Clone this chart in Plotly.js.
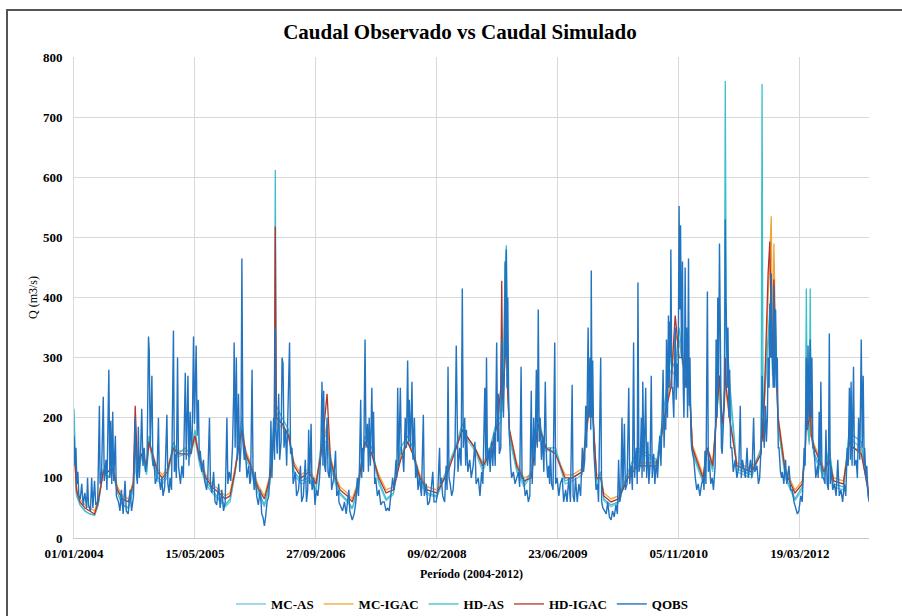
<!DOCTYPE html>
<html>
<head>
<meta charset="utf-8">
<script src="https://cdn.plot.ly/plotly-3.0.1.min.js"></script>
<style>
  html, body { margin: 0; padding: 0; background: #fff; }
  #wrap { position: relative; width: 902px; height: 616px; overflow: hidden; }
  #chart { position: absolute; left: 0; top: 0; width: 902px; height: 616px; }
  #frame { position: absolute; left: 6px; top: 9px; width: 1000px; height: 700px;
           border-left: 2px solid #555; border-top: 2px solid #555; pointer-events: none; }
</style>
</head>
<body>
<div id="wrap"><div id="chart"></div><div id="frame"></div></div>
<script>
// ---------------- DATA ----------------
const ticksDia = [0, 500, 1000, 1500, 2000, 2500, 3000];
const ticksTexto = ['01/01/2004', '15/05/2005', '27/09/2006', '09/02/2008', '23/06/2009', '05/11/2010', '19/03/2012'];
const nombresSeries = ['MC-AS', 'MC-IGAC', 'HD-AS', 'HD-IGAC', 'QOBS'];

// Observed flow: [day since 01/01/2004, Q m3/s]
const qobsPuntos = [
 // 2004
 [0,170],[4,120],[8,150],[12,90],[16,110],[20,70],[26,65],[32,90],[38,55],[45,75],[52,50],[56,100],[60,55],[68,45],[73,100],[78,50],[85,95],[90,55],[98,60],[105,220],[108,90],[114,110],[121,235],[125,95],[132,130],[136,80],[144,280],[148,100],[152,195],[156,90],[160,210],[164,95],[171,170],[175,70],[184,60],[190,45],[196,80],[203,40],[211,95],[216,45],[224,40],[232,80],[238,45],[246,70],[253,200],[257,110],[262,90],[266,185],[270,100],[275,140],[280,215],[285,120],[290,150],[296,110],[302,130],[308,335],[311,310],[315,150],[322,270],[326,120],[331,130],[336,90],[343,100],[349,200],[353,95],[358,80],[363,100],
 // 2005
 [368,70],[375,85],[384,205],[388,90],[393,75],[397,100],[403,80],[411,345],[415,110],[419,140],[423,100],[428,300],[432,120],[440,90],[446,120],[452,100],[460,275],[464,130],[471,270],[475,120],[480,210],[485,140],[489,180],[494,335],[498,190],[505,320],[509,170],[514,230],[518,130],[522,145],[528,110],[535,130],[540,95],[548,80],[553,100],[560,200],[564,90],[570,75],[577,110],[583,60],[590,55],[598,90],[604,50],[611,80],[618,45],[625,60],[632,200],[636,90],[642,110],[648,95],[655,150],[660,240],[662,325],[666,150],[671,300],[675,130],[680,240],[685,110],[690,150],[694,465],[698,160],[704,130],[708,150],[715,100],[722,120],[727,90],
 // 2006
 [730,95],[736,280],[740,110],[745,80],[749,110],[755,70],[762,55],[770,80],[776,40],[781,35],[787,20],[792,35],[798,60],[805,70],[810,120],[814,195],[818,100],[825,200],[829,130],[832,350],[835,180],[840,140],[846,240],[850,130],[856,160],[860,300],[864,290],[868,150],[874,180],[879,120],[887,295],[891,325],[895,140],[901,150],[906,90],[915,110],[920,70],[928,80],[936,120],[941,60],[948,70],[956,130],[961,60],[966,80],[970,180],[974,90],[980,190],[984,80],[991,100],[996,55],[1002,80],[1008,70],[1015,100],[1020,140],[1025,260],[1029,120],[1032,245],[1036,120],[1040,110],[1046,200],[1050,110],[1055,100],[1060,140],[1065,80],[1074,100],[1081,145],[1086,70],[1094,80],
 // 2007
 [1095,60],[1103,50],[1110,45],[1118,60],[1125,40],[1136,80],[1140,45],[1150,30],[1158,40],[1165,60],[1171,100],[1176,70],[1180,120],[1185,230],[1189,100],[1192,150],[1197,110],[1203,330],[1207,150],[1213,190],[1217,110],[1220,200],[1225,120],[1231,250],[1235,140],[1238,210],[1243,90],[1247,100],[1254,70],[1261,80],[1268,55],[1275,60],[1282,60],[1290,45],[1296,50],[1303,45],[1310,70],[1317,100],[1323,80],[1331,130],[1334,100],[1338,250],[1342,120],[1349,250],[1353,140],[1358,140],[1363,110],[1369,200],[1374,150],[1379,295],[1383,160],[1386,230],[1391,150],[1397,260],[1401,130],[1407,200],[1412,100],[1417,120],[1422,80],[1428,100],[1436,70],[1444,205],[1448,70],[1456,90],
 // 2008
 [1462,55],[1469,60],[1476,80],[1483,110],[1488,60],[1497,60],[1504,80],[1511,150],[1514,90],[1518,100],[1524,70],[1532,60],[1538,120],[1542,80],[1546,285],[1550,100],[1555,90],[1561,70],[1567,80],[1574,120],[1580,320],[1583,250],[1587,110],[1594,150],[1600,120],[1605,415],[1609,150],[1615,200],[1619,120],[1622,180],[1628,110],[1636,130],[1642,100],[1650,120],[1657,160],[1662,90],[1671,100],[1678,70],[1685,110],[1690,90],[1698,250],[1702,130],[1705,300],[1709,120],[1716,150],[1720,110],[1726,160],[1731,120],[1736,175],[1741,120],[1747,325],[1751,160],[1754,240],[1758,140],[1764,150],[1768,330],[1772,200],[1775,200],[1778,260],[1782,460],[1785,300],[1787,480],[1790,250],[1793,400],[1797,200],[1800,160],[1805,120],[1809,100],[1816,110],[1823,90],
 // 2009
 [1830,100],[1837,110],[1842,85],[1848,285],[1852,100],[1858,100],[1865,70],[1872,80],[1878,60],[1884,70],[1890,245],[1894,90],[1900,200],[1905,120],[1911,280],[1915,150],[1919,380],[1923,160],[1927,200],[1932,130],[1937,170],[1942,110],[1948,260],[1953,130],[1958,100],[1962,120],[1966,90],[1969,150],[1974,90],[1980,80],[1987,325],[1991,90],[1997,100],[2004,70],[2010,90],[2018,100],[2024,60],[2032,80],[2038,60],[2045,100],[2052,60],[2059,255],[2063,70],[2068,60],[2073,100],[2080,60],[2087,90],[2094,70],[2101,150],[2106,110],[2111,130],[2115,220],[2119,150],[2125,350],[2129,200],[2133,300],[2136,180],[2138,445],[2141,200],[2144,295],[2148,150],[2153,110],[2158,80],[2164,90],[2168,60],[2177,300],[2181,60],[2186,50],
 // 2010
 [2192,45],[2200,40],[2206,60],[2213,35],[2220,30],[2226,45],[2233,35],[2240,55],[2246,40],[2251,130],[2256,60],[2260,70],[2265,200],[2269,80],[2275,190],[2279,80],[2286,90],[2293,250],[2297,90],[2303,120],[2308,80],[2313,325],[2317,100],[2324,150],[2328,90],[2331,425],[2335,110],[2340,120],[2345,200],[2348,100],[2351,260],[2356,110],[2363,250],[2367,100],[2372,160],[2376,90],[2381,120],[2386,270],[2390,100],[2396,140],[2401,90],[2407,130],[2412,100],[2421,170],[2426,120],[2435,280],[2439,150],[2442,200],[2446,180],[2449,330],[2453,200],[2457,370],[2460,250],[2462,360],[2465,300],[2467,480],[2471,250],[2474,250],[2479,200],[2482,280],[2485,350],[2489,230],[2493,290],[2497,250],[2501,552],[2504,380],[2507,520],[2511,300],[2515,460],[2518,260],[2521,200],[2524,300],[2526,450],[2530,250],[2532,350],[2536,200],[2540,465],[2543,220],[2546,300],[2550,170],[2553,150],
 // 2011
 [2558,140],[2562,130],[2568,100],[2574,80],[2580,90],[2587,70],[2594,90],[2601,100],[2604,80],[2608,145],[2612,90],[2618,410],[2622,110],[2626,130],[2632,90],[2638,100],[2643,80],[2650,120],[2654,330],[2658,200],[2661,400],[2664,250],[2668,490],[2671,300],[2673,250],[2676,150],[2679,140],[2682,200],[2685,200],[2689,250],[2692,530],[2694,400],[2696,380],[2700,250],[2703,350],[2707,200],[2710,280],[2714,150],[2719,150],[2725,110],[2733,130],[2740,100],[2748,120],[2754,220],[2758,100],[2763,130],[2768,120],[2775,100],[2782,150],[2787,100],[2796,130],[2802,100],[2809,200],[2814,110],[2823,120],[2829,90],[2834,100],[2840,150],[2844,270],[2848,200],[2853,150],[2858,220],[2862,160],[2866,200],[2869,300],[2873,250],[2876,390],[2879,300],[2882,440],[2885,300],[2887,300],[2890,250],[2893,420],[2896,250],[2900,380],[2904,250],[2907,300],[2911,150],[2914,150],[2920,110],
 // 2012
 [2925,100],[2928,110],[2934,90],[2941,130],[2946,90],[2955,120],[2962,80],[2969,80],[2976,60],[2983,50],[2990,40],[2996,45],[3004,70],[3010,60],[3018,150],[3022,120],[3027,300],[3031,180],[3034,320],[3038,200],[3043,330],[3047,200],[3050,300],[3054,150],[3059,150],[3066,100],[3073,120],[3076,100],[3080,210],[3084,120],[3087,260],[3092,100],[3098,100],[3104,90],[3108,180],[3113,90],[3118,80],[3122,340],[3126,90],[3129,120],[3136,80],[3143,90],[3150,70],[3157,130],[3163,70],[3170,80],[3177,60],[3184,90],[3190,70],[3196,150],[3200,120],[3205,250],[3209,130],[3212,260],[3216,120],[3222,285],[3226,120],[3233,130],[3238,100],[3243,200],[3248,130],[3254,330],[3258,150],[3262,270],[3266,120],[3268,150],[3273,100],[3277,120],[3282,70],[3287,60]
];

// Simulated flows share these days (since 01/01/2004)
const simDia = [
 0,10,25,45,65,85,100,121,140,160,180,200,225,245,253,262,280,300,310,325,345,
 365,385,411,430,460,480,500,520,545,570,600,625,645,665,680,694,710,
 730,745,765,787,810,828,832,836,860,887,910,940,970,1000,1025,1046,1060,1080,
 1100,1130,1150,1175,1203,1231,1260,1290,1320,1350,1379,1400,1430,
 1460,1500,1546,1580,1605,1622,1657,1690,1720,1750,1764,1768,1772,1782,1787,1792,1800,
 1830,1860,1890,1919,1950,1990,2030,2060,2100,2125,2138,2160,2177,2190,
 2220,2250,2290,2330,2370,2410,2440,2467,2485,2501,2515,2530,2540,2556,
 2600,2618,2640,2661,2668,2679,2688,2692,2696,2710,2740,2800,2840,2844,2848,2869,2876,2882,2887,2893,2900,2910,
 2940,2980,3010,3023,3027,3031,3039,3043,3047,3060,3100,3122,3140,3180,3205,3222,3254,3287
];
const mcAS = [
 180,70,55,45,40,38,55,110,100,110,75,55,50,80,160,105,135,105,160,125,95,
 90,100,150,135,140,135,165,120,90,75,62,52,60,105,150,185,130,
 115,90,70,52,90,190,380,210,190,170,105,90,95,78,160,160,120,90,
 72,60,48,80,160,140,90,62,72,140,160,140,90,
 72,68,115,150,180,165,145,110,145,190,190,260,210,400,440,280,165,
 110,85,105,190,145,145,90,95,105,210,250,90,105,62,
 52,58,105,145,135,125,210,280,270,330,290,270,290,140,
 92,145,110,230,240,165,240,500,330,240,110,100,145,300,190,320,360,400,270,380,330,185,
 100,62,80,145,330,190,155,330,170,135,100,145,85,80,170,160,150,62
];
const mcIGAC = [
 150,85,65,55,50,45,65,110,110,120,85,70,65,95,170,125,140,125,160,140,115,
 105,115,150,145,145,145,165,135,105,90,80,70,75,115,150,175,145,
 125,105,85,70,105,170,300,190,185,170,125,105,115,95,150,190,135,105,
 85,75,65,95,160,140,105,80,85,135,160,145,105,
 85,80,115,150,180,170,150,125,145,190,230,350,220,300,420,240,180,
 125,100,105,185,150,140,105,105,115,200,240,105,105,75,
 65,70,105,125,125,125,200,260,340,320,310,260,280,155,
 105,150,125,230,260,180,215,280,240,195,125,115,145,190,165,400,480,535,320,490,320,205,
 115,80,95,150,200,180,200,230,170,155,115,130,100,95,160,150,145,75
];
const hdAS = [
 215,75,55,45,40,38,55,115,100,115,75,55,50,85,170,110,140,110,170,130,100,
 95,105,160,140,150,140,180,125,95,80,65,55,65,110,160,200,135,
 120,95,75,55,95,200,612,220,200,180,110,95,100,80,170,170,125,95,
 75,62,50,85,170,150,95,65,75,150,170,150,95,
 75,70,120,155,190,170,150,115,150,200,200,300,220,450,487,300,170,
 115,90,110,200,150,150,95,100,110,220,260,95,110,65,
 55,60,110,150,140,130,220,300,280,350,300,280,300,145,
 95,150,115,240,250,170,250,760,350,260,115,105,150,755,200,350,380,420,280,400,350,190,
 105,65,85,150,415,200,160,415,180,140,105,150,90,85,180,170,160,65
];
const hdIGAC = [
 165,80,60,50,45,40,60,110,110,115,80,65,60,90,220,120,140,120,160,140,110,
 100,110,150,140,140,140,170,130,100,85,75,65,70,110,150,180,140,
 120,100,80,65,100,180,518,200,190,170,120,100,110,90,150,240,130,100,
 80,70,60,90,160,140,100,75,80,130,160,140,100,
 80,75,110,150,180,170,150,120,140,190,250,428,230,300,400,250,180,
 120,95,100,190,150,140,100,100,110,200,250,100,100,70,
 60,65,100,120,120,120,200,250,370,300,300,250,280,150,
 100,150,120,230,270,190,220,300,250,200,120,110,140,200,160,440,493,350,300,430,300,200,
 110,75,90,150,200,180,200,230,170,150,110,130,95,90,160,150,140,70
];
const colores = ['#6cc4e4', '#f2a43a', '#3bbfcc', '#b3342c', '#2273c0'];

// ---------------- CHART ----------------
const base = Date.UTC(2004, 0, 1);
const aFecha = d => new Date(base + d * 86400000).toISOString().slice(0, 10);

const simX = simDia.map(aFecha);
const simSeries = [mcAS, mcIGAC, hdAS, hdIGAC];
const traces = simSeries.map((vals, i) => ({
  type: 'scatter', mode: 'lines', name: nombresSeries[i],
  x: simX, y: vals, line: { color: colores[i], width: 1.3 }
}));
traces.push({
  type: 'scatter', mode: 'lines', name: nombresSeries[4],
  x: qobsPuntos.map(p => aFecha(p[0])), y: qobsPuntos.map(p => p[1]),
  line: { color: colores[4], width: 1.4 }
});

const serif = 'Liberation Serif, Times New Roman, serif';
const layout = {
  width: 902, height: 616,
  margin: { l: 74, r: 33, t: 57, b: 78 },
  paper_bgcolor: '#fff', plot_bgcolor: '#fff',
  font: { family: serif, color: '#000' },
  title: {
    text: 'Caudal Observado vs Caudal Simulado',
    font: { family: serif, size: 21, weight: 'bold', color: '#000' },
    xref: 'container', yref: 'container', x: 460 / 902, xanchor: 'center',
    y: 1 - 32 / 616, yanchor: 'middle'
  },
  xaxis: {
    type: 'date',
    range: [aFecha(0), aFecha(3286)],
    tickmode: 'array',
    tickvals: ticksDia.map(aFecha),
    ticktext: ticksTexto,
    tickfont: { family: serif, size: 13, weight: 'bold', color: '#000' },
    ticklabelstandoff: 3,
    showgrid: true, gridcolor: '#d9d9d9', gridwidth: 1,
    showline: true, linecolor: '#c8c8c8', linewidth: 1,
    zeroline: false, ticks: '', automargin: false,
    title: { text: 'Período (2004-2012)', font: { family: serif, size: 12, weight: 'bold', color: '#000' }, standoff: 10 }
  },
  yaxis: {
    range: [0, 800], dtick: 100, tick0: 0,
    tickfont: { family: serif, size: 13, weight: 'bold', color: '#000' },
    showgrid: true, gridcolor: '#d9d9d9', gridwidth: 1,
    showline: true, linecolor: '#d9d9d9', zeroline: false, ticks: '',
    ticklabelstandoff: 8, automargin: false,
    title: { text: 'Q (m3/s)', font: { family: serif, size: 12, color: '#000' }, standoff: 2 }
  },
  showlegend: true,
  legend: {
    orientation: 'h', xref: 'container', yref: 'container',
    x: 462 / 902, xanchor: 'center',
    y: 1 - 604 / 616, yanchor: 'middle',
    font: { family: serif, size: 13, weight: 'bold', color: '#000' },
    bgcolor: 'rgba(0,0,0,0)', itemwidth: 30
  },
  hovermode: false
};

Plotly.newPlot('chart', traces, layout, { displayModeBar: false, staticPlot: true });
</script>
</body>
</html>
